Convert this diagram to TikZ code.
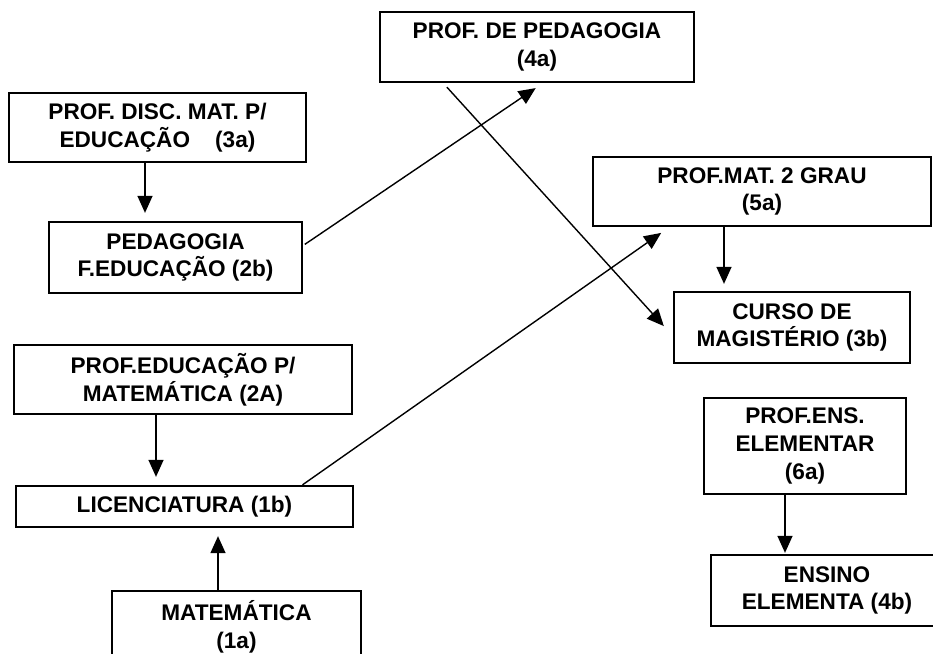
\documentclass[tikz,border=0pt]{standalone}
\usepackage{fontspec}
\setmainfont{Liberation Sans}
\usetikzlibrary{arrows.meta}

\begin{document}
\begin{tikzpicture}[x=0.5pt,y=-0.5pt,
	box/.style={draw=black,line width=1.15pt,align=center,inner sep=0pt,
		font=\fontsize{11.3}{13.8}\selectfont\bfseries},
	arr/.style={line width=0.7pt,-{Triangle[width=7.5pt,length=8.5pt]}}]
	\clip (0,0) rectangle (933,654);
	\node[box,minimum width=148.5pt,minimum height=34.5pt] (disc) at (157.5,127.5) {PROF. DISC. MAT. P/\\EDUCAÇÃO\ \ \ \ (3a)};
	\node[box,minimum width=126.5pt,minimum height=35.5pt] (pedag) at (175.5,257.5) {PEDAGOGIA\\F.EDUCAÇÃO (2b)};
	\node[box,minimum width=157pt,minimum height=35pt] (profped) at (537,47) {PROF. DE PEDAGOGIA\\(4a)};
	\node[box,minimum width=169pt,minimum height=34.5pt] (profmat) at (762,191.5) {PROF.MAT. 2 GRAU\\(5a)};
	\node[box,minimum width=118pt,minimum height=35.5pt] (magist) at (792,327.5) {CURSO DE\\MAGISTÉRIO (3b)};
	\node[box,minimum width=169pt,minimum height=34.5pt] (profedu) at (183,379.5) {PROF.EDUCAÇÃO P/\\MATEMÁTICA (2A)};
	\node[box,minimum width=168.5pt,minimum height=20.5pt] (lic) at (184.5,506.5) {LICENCIATURA (1b)};
	\node[box,minimum width=124.5pt,minimum height=36pt] (mat) at (236.5,627) {MATEMÁTICA\\(1a)};
	\node[box,minimum width=101pt,minimum height=48pt] (profens) at (805,446) {PROF.ENS.\\ELEMENTAR\\(6a)};
	\node[box,minimum width=116pt,minimum height=35.5pt] (ensino) at (827,590.5) {ENSINO\\ELEMENTA (4b)};

	\draw[arr,shorten >=4pt] ([xshift=-6.25pt]disc.south) -- ([xshift=-6.25pt]disc.south |- pedag.north);
	\draw[arr,shorten <=1pt,shorten >=4.4pt] ([yshift=6pt]pedag.east) -- ([xshift=3pt]profped.south);
	\draw[arr,shorten <=2.7pt,shorten >=6.7pt] ([xshift=32.2pt]profped.south west) -- ([yshift=-4.25pt]magist.west);
	\draw[arr,shorten >=5pt] ([xshift=59pt]lic.north) -- ([xshift=38.75pt]profmat.south west);
	\draw[arr,shorten >=3.5pt] ([xshift=-19pt]profmat.south) -- ([xshift=-19pt]profmat.south |- magist.north);
	\draw[arr,shorten >=4pt] ([xshift=-13.5pt]profedu.south) -- ([xshift=-13.5pt]profedu.south |- lic.north);
	\draw[arr,shorten >=4pt] ([xshift=-9.25pt]mat.north) -- ([xshift=-9.25pt]mat.north |- lic.south);
	\draw[arr,shorten >=0.5pt] ([xshift=-10pt]profens.south) -- ([xshift=-10pt]profens.south |- ensino.north);
\end{tikzpicture}
\end{document}
